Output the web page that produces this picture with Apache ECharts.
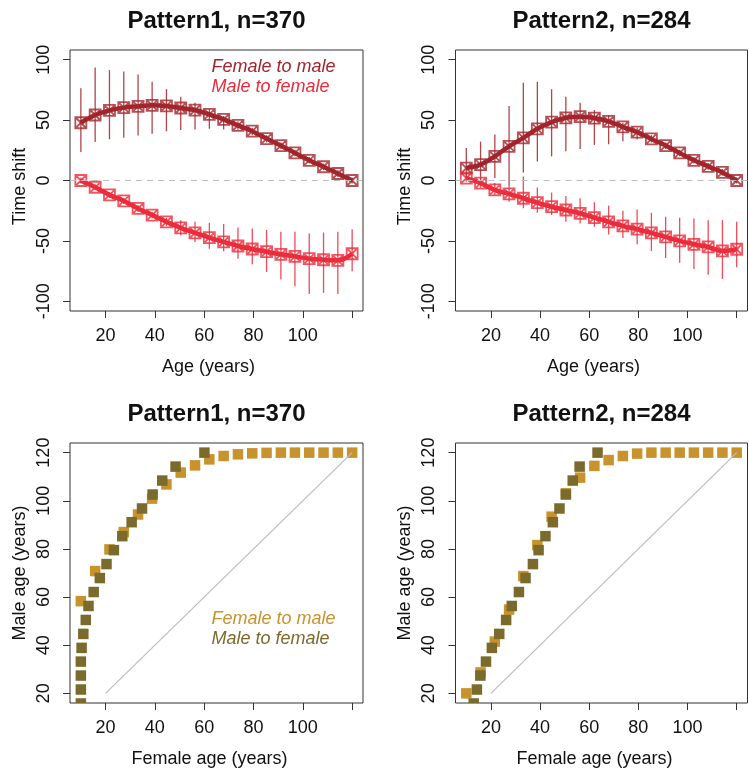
<!DOCTYPE html>
<html><head><meta charset="utf-8">
<script src="https://cdn.jsdelivr.net/npm/echarts@6/dist/echarts.min.js"></script>
<style>html,body{margin:0;padding:0;background:#fff}#c{width:749px;height:770px}</style>
</head><body><div id="c"></div>
<script>
// ---------- data ----------
const ages = [10, 15.8, 21.6, 27.4, 33.2, 38.9, 44.7, 50.5, 56.3, 62.1, 67.9, 73.7, 79.5, 85.3, 91.1, 96.8, 102.6, 108.4, 114.2, 120];

// Pattern1 time shift
const p1F2M    = [47.8, 54.2, 58, 60.3, 61.4, 62.2, 61.7, 60, 58.3, 54.7, 50.6, 45.6, 40.8, 34.7, 28.9, 22.8, 16.7, 11.4, 5.8, 0];
const p1F2M_lo = [23.6, 31.9, 34.2, 35.3, 37.2, 38.6, 40.8, 41.7, 42.2, 42.8, 42.2, 42, 37.5, 31.5, 26, 20, 14, 8.5, 3, -2.5];
const p1F2M_hi = [76.4, 93.6, 91.4, 90.3, 87.8, 81.7, 75.6, 69.4, 64.4, 58.9, 53.3, 49, 43.5, 37.5, 31.5, 25.5, 19.5, 14, 8.5, 2.5];
const p1M2F    = [0, -5.6, -11.9, -16.9, -23.1, -28.6, -34.2, -39.2, -43.3, -47.2, -50.8, -54.2, -56.7, -58.9, -61.1, -62.8, -64.7, -65.6, -66.1, -60.6];
const p1M2F_lo = [-2.5, -8, -14.5, -19.5, -26, -31.5, -37.5, -45.3, -50.8, -56.4, -58.6, -64.7, -69.4, -75.8, -82, -87.5, -93.9, -93, -93.9, -75];
const p1M2F_hi = [2.5, -3, -9.5, -14.5, -20.5, -26, -31, -32.8, -34.2, -35, -36, -38.9, -39.7, -41, -42.5, -42.5, -43.9, -43, -42.5, -40.3];

// Pattern2 time shift
const p2F2M    = [10.3, 13.1, 20, 28.3, 35.3, 42.8, 48.3, 51.9, 52.8, 51.7, 48.9, 44.4, 40, 34.4, 28.9, 22.8, 16.7, 11.7, 6.7, 0];
const p2F2M_lo = [2, 0, 2, -5, 6.7, 15.8, 20, 24.2, 26.1, 29.5, 30, 32.5, 33.9, 31.5, 26, 20, 14, 9, 4, -2.5];
const p2F2M_hi = [27, 32.2, 38, 61.7, 81, 81.7, 75.6, 69.4, 64.4, 58.3, 54, 47.8, 43.6, 37.5, 31.5, 25.5, 19.5, 14.5, 9.5, 2.5];
const p2M2F    = [1.9, -2.2, -7.8, -11.1, -14.7, -18.3, -21.7, -24.4, -27.2, -30.8, -34.2, -37.5, -40.3, -43.3, -46.7, -50, -52.8, -55, -58.3, -56.9];
const p2M2F_lo = [-1, -6, -12, -17.5, -23, -26.7, -28.6, -34.2, -35.6, -38.3, -44.7, -47.5, -52.8, -58.3, -64.2, -68, -73.3, -78, -81.4, -71.7];
const p2M2F_hi = [4.5, 1.5, -2, -5, 3.3, -5.8, -10, -12.8, -14.7, -18, -20.8, -25, -23.9, -26.7, -30, -30.8, -31.4, -32.8, -32.8, -34.2];

// Age mapping (x = female age grid -> male age ; male age grid -> female age)
const b1F2M_male   = [58.3, 70.8, 79.8, 87, 94.3, 100.9, 106.8, 111.7, 114.7, 117.2, 118.6, 119.3, 119.7, 119.9, 120, 120, 120, 120, 120, 120];
const b1M2F_female = [10, 10, 10, 10, 10, 10.3, 11, 12, 13.1, 15.2, 17.7, 20.4, 23.4, 26.8, 30.6, 34.8, 39.1, 43, 48.4, 60.1];
const b2F2M_male   = [20, 28.7, 41.5, 54.8, 68.7, 81.6, 93.4, 103.1, 109.6, 114.5, 116.9, 118.6, 119.6, 120, 120, 120, 120, 120, 120, 120];
const b2M2F_female = [12, 13.0, 14.3, 15.7, 18, 20.4, 23.4, 26.2, 28.5, 31.4, 34.1, 37.1, 39.4, 42.2, 45.2, 47.9, 50.5, 53.3, 56.1, 63.4];
const diagonal = [20, 120];

const xTicks = [20, 40, 60, 80, 100, 120];
const xLabels = [20, 40, 60, 80, 100];
const yTicksTop = [-100, -50, 0, 50, 100];
const yTicksBot = [20, 40, 60, 80, 100, 120];
const titles = ['Pattern1, n=370', 'Pattern2, n=284', 'Pattern1, n=370', 'Pattern2, n=284'];
const seriesNames = ['Female to male', 'Male to female'];

// ---------- styles ----------
const FONT = 'Liberation Sans, Arial, Helvetica, sans-serif';
const C_F2M = '#A3252C', C_M2F = '#EC2B3B';
const C_GOLD = '#C8922C', C_OLIVE = '#7A6A2B';

const grids = [
  {left: 70, top: 50, width: 293, height: 261},
  {left: 455.5, top: 50, width: 292, height: 261},
  {left: 70, top: 443, width: 293, height: 260},
  {left: 455.5, top: 443, width: 292, height: 260}
].map(g => Object.assign({show: true, borderColor: '#333', borderWidth: 1, backgroundColor: '#fff'}, g));

function xAx(gi, name, shift) {
  return {type: 'value', gridIndex: gi, position: 'bottom', min: 5.6, max: 124.4, name, nameLocation: 'middle', nameGap: 47,
    nameTextStyle: {fontSize: 18, color: '#111', fontFamily: FONT, padding: [0, shift, 0, 0]},
    axisLine: {show: false, onZero: false}, splitLine: {show: false},
    axisTick: {show: true, inside: false, length: 7, customValues: xTicks, lineStyle: {color: '#333'}},
    axisLabel: {customValues: xLabels, fontSize: 18, margin: 16, color: '#111', fontFamily: FONT}};
}
function yAx(gi, name, min, max, ticks, shift) {
  return {type: 'value', gridIndex: gi, position: 'left', min, max, name, nameLocation: 'middle', nameGap: 41,
    nameTextStyle: {fontSize: 18, color: '#111', fontFamily: FONT, padding: [0, shift, 0, 0]},
    axisLine: {show: false, onZero: false}, splitLine: {show: false},
    axisTick: {show: true, inside: false, length: 7, customValues: ticks, lineStyle: {color: '#333'}},
    axisLabel: {customValues: ticks, rotate: 90, fontSize: 18, margin: 17, color: '#111', fontFamily: FONT}};
}

const markerPath = 'path://M0 0H10V10H0Z M0 0L10 10 M10 0L0 10';

function errSeries(gi, lo, hi, color) {
  return {type: 'custom', xAxisIndex: gi, yAxisIndex: gi, silent: true, z: 2,
    data: ages.map((a, i) => [a, lo[i], hi[i]]),
    renderItem: (p, api) => {
      const a = api.coord([api.value(0), api.value(1)]);
      const b = api.coord([api.value(0), api.value(2)]);
      return {type: 'line', shape: {x1: a[0], y1: a[1], x2: b[0], y2: b[1]}, style: {stroke: color, lineWidth: 1.3, opacity: 0.85}};
    }};
}
function markerSeries(gi, vals, color) {
  return {type: 'scatter', xAxisIndex: gi, yAxisIndex: gi, silent: true, z: 3,
    data: ages.map((a, i) => [a, vals[i]]), symbol: markerPath, symbolSize: 11,
    itemStyle: {color: 'rgba(255,255,255,0)', borderColor: color, borderWidth: 1.8, opacity: 0.8}};
}
function lineSeries(gi, vals, color) {
  return {type: 'line', xAxisIndex: gi, yAxisIndex: gi, silent: true, z: 4, smooth: 0.4,
    data: ages.map((a, i) => [a, vals[i]]), showSymbol: false,
    lineStyle: {color, width: 4.5}};
}
function squareSeries(gi, pts, color) {
  return {type: 'custom', xAxisIndex: gi, yAxisIndex: gi, silent: true, z: 3, data: pts,
    renderItem: (p, api) => {
      const c = api.coord([api.value(0), api.value(1)]);
      const s = 10.5;
      const cs = p.coordSys;
      const r = echarts.graphic.clipRectByRect({x: c[0] - s / 2, y: c[1] - s / 2, width: s, height: s},
        {x: cs.x, y: cs.y, width: cs.width, height: cs.height});
      return r ? {type: 'rect', shape: r, style: {fill: color}} : null;
    }};
}

const zeroLine = {silent: true, symbol: 'none', label: {show: false},
  lineStyle: {color: '#BDBDBD', type: [6, 5], width: 1.2}, data: [{yAxis: 0}]};
const diagLine = {silent: true, symbol: 'none', label: {show: false},
  lineStyle: {color: '#BDBDBD', type: 'solid', width: 1.2},
  data: [[{coord: [diagonal[0], diagonal[0]]}, {coord: [diagonal[1], diagonal[1]]}]]};

const series = [
  // panel 1
  Object.assign(errSeries(0, p1F2M_lo, p1F2M_hi, C_F2M), {markLine: zeroLine}),
  errSeries(0, p1M2F_lo, p1M2F_hi, C_M2F),
  markerSeries(0, p1F2M, C_F2M), markerSeries(0, p1M2F, C_M2F),
  lineSeries(0, p1F2M, C_F2M), lineSeries(0, p1M2F, C_M2F),
  // panel 2
  Object.assign(errSeries(1, p2F2M_lo, p2F2M_hi, C_F2M), {markLine: zeroLine}),
  errSeries(1, p2M2F_lo, p2M2F_hi, C_M2F),
  markerSeries(1, p2F2M, C_F2M), markerSeries(1, p2M2F, C_M2F),
  lineSeries(1, p2F2M, C_F2M), lineSeries(1, p2M2F, C_M2F),
  // panel 3
  Object.assign(squareSeries(2, ages.map((a, i) => [a, b1F2M_male[i]]), C_GOLD), {markLine: diagLine}),
  squareSeries(2, ages.map((a, i) => [b1M2F_female[i], a]), C_OLIVE),
  // panel 4
  Object.assign(squareSeries(3, ages.map((a, i) => [a, b2F2M_male[i]]), C_GOLD), {markLine: diagLine}),
  squareSeries(3, ages.map((a, i) => [b2M2F_female[i], a]), C_OLIVE)
];

const titleText = (t, x, y) => ({type: 'text', x, y, silent: true,
  style: {text: t, font: 'bold 24px ' + FONT, fill: '#111', textAlign: 'center', textVerticalAlign: 'middle'}});
const legText = (t, x, y, color) => ({type: 'text', x, y, silent: true, z: 10,
  style: {text: t, font: 'italic 18px ' + FONT, fill: color, textAlign: 'left', textVerticalAlign: 'middle'}});

const option = {
  animation: false,
  backgroundColor: '#fff',
  grid: grids,
  xAxis: [xAx(0, 'Age (years)', 16), xAx(1, 'Age (years)', 16), xAx(2, 'Female age (years)', 14), xAx(3, 'Female age (years)', 14)],
  yAxis: [yAx(0, 'Time shift', -108, 108, yTicksTop, 12), yAx(1, 'Time shift', -108, 108, yTicksTop, 12),
          yAx(2, 'Male age (years)', 16, 124, yTicksBot, 0), yAx(3, 'Male age (years)', 16, 124, yTicksBot, 0)],
  series,
  graphic: [
    titleText(titles[0], 216.5, 21), titleText(titles[1], 601.5, 21),
    titleText(titles[2], 216.5, 414), titleText(titles[3], 601.5, 414),
    legText(seriesNames[0], 211.5, 67, C_F2M), legText(seriesNames[1], 211.5, 87, C_M2F),
    legText(seriesNames[0], 211.5, 619, C_GOLD), legText(seriesNames[1], 211.5, 639, C_OLIVE)
  ]
};
const chart = echarts.init(document.getElementById('c'), null, {renderer: 'canvas'});
chart.setOption(option);
</script>
</body></html>
